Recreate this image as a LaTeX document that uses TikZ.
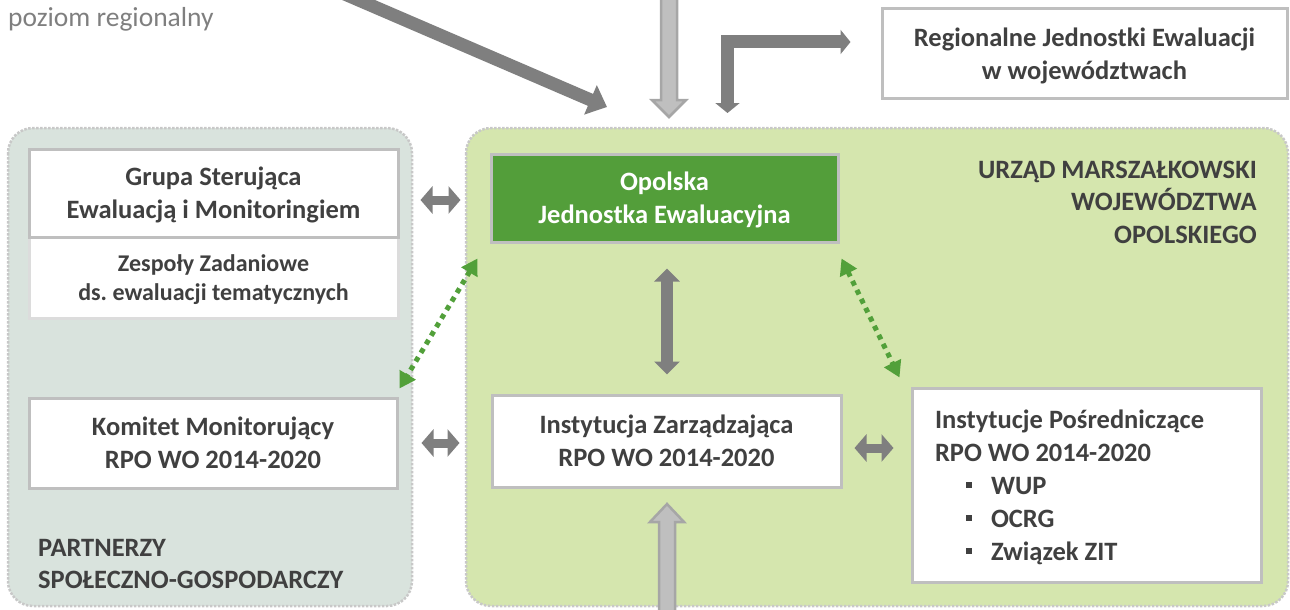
\documentclass[tikz,border=0pt]{standalone}
\usepackage{fontspec}
\setmainfont{Carlito}
\usetikzlibrary{arrows.meta,calc}
\frenchspacing
\definecolor{txt}{HTML}{404040}
\definecolor{leftbg}{HTML}{D9E3DD}
\definecolor{rightbg}{HTML}{D5E6AE}
\definecolor{grpline}{HTML}{C8C8C8}
\definecolor{boxline}{HTML}{BFBFBF}
\definecolor{boxline2}{HTML}{DCDCDC}
\definecolor{ojefill}{HTML}{539E3A}
\definecolor{darkarr}{HTML}{7F7F7F}
\definecolor{lightarr}{HTML}{BFBFBF}
\definecolor{lightarrline}{HTML}{A6A6A6}
\definecolor{greenarr}{HTML}{52A03A}
\definecolor{captxt}{HTML}{7F7F7F}
\tikzset{
  group/.style={draw=grpline, line width=2.5pt, dash pattern=on 2.5pt off 1.5pt, rounded corners=25pt},
  box/.style={draw=boxline, line width=3pt, fill=white, inner sep=0pt, align=center, text=txt,
    text depth=0pt, font=\frenchspacing\bfseries\fontsize{26.5}{33}\selectfont},
  smallbox/.style={box, draw=boxline2, font=\frenchspacing\bfseries\fontsize{24}{29}\selectfont},
  label/.style={text=txt, inner sep=0pt, font=\bfseries\fontsize{26.5}{32.5}\selectfont},
  bigarr/.style={draw=darkarr, line width=12pt, line join=miter,
    {Triangle[length=13pt,width=25pt]}-{Triangle[length=13pt,width=25pt]}},
  smallarr/.style={draw=darkarr, line width=9pt,
    {Triangle[length=12pt,width=27pt]}-{Triangle[length=12pt,width=27pt]}},
  dotarr/.style={draw=greenarr, line width=5pt, dash pattern=on 5pt off 5pt,
    {Triangle[length=16pt,width=18pt]}-{Triangle[length=16pt,width=18pt]}},
  hollowarr/.style={draw=lightarrline, fill=lightarr, line width=2.5pt, line join=miter}
}
\newcommand{\sqbullet}{\textcolor{txt}{\rule[0.22em]{6pt}{6pt}}}
\begin{document}
\begin{tikzpicture}[x=1pt,y=-1pt]
\useasboundingbox (0,0) rectangle (1290,610);
% group backgrounds
\draw[group, fill=leftbg] (8,128) rectangle (412,606);
\draw[group, fill=rightbg] (466,128) rectangle (1288,606);

% caption
\node[anchor=base west, inner sep=0pt, text=captxt, font=\fontsize{27.5}{33}\selectfont] (cap) at (8,27) {poziom regionalny};

% boxes
\node[smallbox, minimum width=369pt, minimum height=81pt] (zesp) at (213.5,278) {Zespoły Zadaniowe\\ds. ewaluacji tematycznych};
\node[box, minimum width=369pt, minimum height=88pt] (grupa) at (213.5,193) {Grupa Sterująca\\Ewaluacją i Monitoringiem};
\node[box, minimum width=368pt, minimum height=90pt] (komitet) at (213,443) {Komitet Monitorujący\\RPO WO 2014-2020};
\node[box, fill=ojefill, text=white, minimum width=347pt, minimum height=88pt] (oje) at (664.5,198) {Opolska\\Jednostka Ewaluacyjna};
\node[box, minimum width=349pt, minimum height=92pt] (iz) at (666.5,441) {Instytucja Zarządzająca\\RPO WO 2014-2020};
\node[box, minimum width=349pt, minimum height=194pt] (ip) at (1086.5,485)
  {\parbox[b]{303pt}{\raggedright Instytucje Pośredniczące\\RPO WO 2014-2020\\
   \hspace*{31pt}\makebox[25pt][l]{\sqbullet}WUP\\
   \hspace*{31pt}\makebox[25pt][l]{\sqbullet}OCRG\\
   \hspace*{31pt}\makebox[25pt][l]{\sqbullet}Związek ZIT}};
\node[box, minimum width=405pt, minimum height=89pt] (rje) at (1084.5,53.5) {Regionalne Jednostki Ewaluacji\\w województwach};

% group labels
\node[label, align=right, anchor=east] (urzad) at (1257,202) {URZĄD MARSZAŁKOWSKI\\WOJEWÓDZTWA\\OPOLSKIEGO};
\node[label, align=left, anchor=west] (partn) at (38,564) {PARTNERZY\\SPOŁECZNO-GOSPODARCZY};

% free ends
\coordinate (topdiag) at (340,-8);
\coordinate (toplight) at (669,-5);
\coordinate (botlight) at (667,615);

% diagonal dark arrow
\draw[draw=darkarr, line width=13pt, -{Triangle[length=18pt,width=31pt]}] (topdiag) -- (607,107);

% light gray vertical arrow from top
\draw[hollowarr] (toplight) ++(-8,0) -- ++(0,105) -- ++(-9,0) -- ++(17,17) -- ++(17,-17) -- ++(-9,0) -- ++(0,-105) -- cycle;
% light gray vertical arrow from bottom
\draw[hollowarr] (botlight) ++(-8,0) -- ++(0,-93) -- ++(-9,0) -- ++(17,-18) -- ++(17,18) -- ++(-9,0) -- ++(0,93) -- cycle;

% elbow arrow to RJE
\draw[draw=darkarr, line width=13pt, line join=miter,
  {Triangle[length=10pt,width=24pt]}-{Triangle[length=10pt,width=24pt]}]
  (727.5,113) |- ($(rje.west)+(-30,-11.5)$);

% horizontal double arrows
\draw[smallarr] ($(grupa.east)+(21,7)$) -- ($(oje.west)+(-29,2)$);
\draw[smallarr] ($(komitet.east)+(23,0)$) -- ($(iz.west)+(-31,2)$);
\draw[smallarr] ($(iz.east)+(12,7)$) -- ($(ip.west)+(-17,-37)$);

% vertical double arrow OJE - IZ
\draw[bigarr] ($(oje.south)+(2.5,25)$) -- ($(iz.north)+(0.5,-19)$);

% dotted green arrows
\draw[dotarr] ($(oje.south west)+(-12,15)$) -- ($(komitet.north east)+(1,-8)$);
\draw[dotarr] ($(oje.south east)+(2,15)$) -- ($(ip.north west)+(-11,-9)$);
\end{tikzpicture}
\end{document}
